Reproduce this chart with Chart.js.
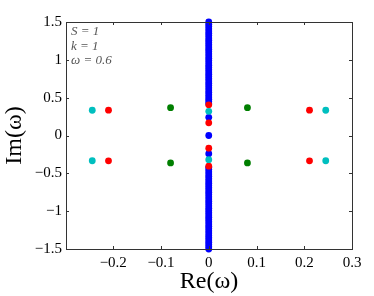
<!DOCTYPE html>
<html>
<head>
<meta charset="utf-8">
<script src="https://cdn.jsdelivr.net/npm/chart.js@4/dist/chart.umd.min.js"></script>
<style>
  html, body { margin: 0; padding: 0; background: #fff; }
</style>
</head>
<body>
<canvas id="roots" width="374" height="296"></canvas>
<script>
// eigenvalues (Re, Im)
var cyanRe = [-0.244, -0.244, 0.245, 0.245, 0, 0];
var cyanIm = [0.334, -0.334, 0.334, -0.334, 0.32, -0.32];

var redRe = [-0.21, -0.21, 0.211, 0.211, 0, 0, 0, 0];
var redIm = [0.335, -0.335, 0.335, -0.335, 0.405, -0.405, 0.167, -0.167];

var greenRe = [-0.08, -0.08, 0.081, 0.081];
var greenIm = [0.368, -0.362, 0.368, -0.362];

// blue branch sits on the imaginary axis
var blueIm = [0, 0.24, -0.24,
  0.42, 0.45, 0.48, 0.51, 0.54, 0.57, 0.60, 0.63, 0.66, 0.69, 0.72, 0.75, 0.78, 0.81,
  0.84, 0.87, 0.90, 0.93, 0.96, 0.99, 1.02, 1.05, 1.08, 1.11, 1.14, 1.17, 1.20, 1.23,
  1.26, 1.29, 1.32, 1.35, 1.38, 1.41, 1.44, 1.47, 1.50,
  -0.42, -0.45, -0.48, -0.51, -0.54, -0.57, -0.60, -0.63, -0.66, -0.69, -0.72, -0.75, -0.78, -0.81,
  -0.84, -0.87, -0.90, -0.93, -0.96, -0.99, -1.02, -1.05, -1.08, -1.11, -1.14, -1.17, -1.20, -1.23,
  -1.26, -1.29, -1.32, -1.35, -1.38, -1.41, -1.44, -1.47, -1.50];

var xTicks = [-0.2, -0.1, 0, 0.1, 0.2, 0.3];
var yTicks = [-1.5, -1, -0.5, 0, 0.5, 1, 1.5];
var notes = ['S = 1', 'k = 1', 'ω = 0.6'];

function pts(re, im){
    var out = [];
    for (var i = 0; i < im.length; i++) {
        out.push({x: re === null ? 0 : re[i], y: im[i]});
    }
    return out;
}

function fmt(v){
    var s = String(Math.round(v * 10) / 10);
    return s.replace('-', '\u2212');
}

// MATLAB-like box with inward ticks + the parameter note
var boxPlugin = {
    id: 'box',
    afterDraw: function(chart){
        var c = chart.ctx, a = chart.chartArea;
        var xs = chart.scales.x, ys = chart.scales.y;
        c.save();
        c.strokeStyle = '#333';
        c.lineWidth = 1;
        c.strokeRect(a.left + 0.5, a.top + 0.5, a.right - a.left, a.bottom - a.top);
        c.beginPath();
        xTicks.forEach(function(t){
            var px = Math.round(xs.getPixelForValue(t)) + 0.5;
            c.moveTo(px, a.bottom); c.lineTo(px, a.bottom - 3);
            c.moveTo(px, a.top); c.lineTo(px, a.top + 3);
        });
        yTicks.forEach(function(t){
            var py = Math.round(ys.getPixelForValue(t)) + 0.5;
            c.moveTo(a.left, py); c.lineTo(a.left + 3, py);
            c.moveTo(a.right, py); c.lineTo(a.right - 3, py);
        });
        c.stroke();
        c.fillStyle = '#555';
        c.font = 'italic 13px "Liberation Serif"';
        c.textBaseline = 'middle';
        notes.forEach(function(n, i){
            c.fillText(n, a.left + 5, a.top + 10 + i * 14.5);
        });
        c.restore();
    }
};

var dot = {pointRadius: 3.4, pointHoverRadius: 3.4, borderWidth: 0, clip: false};

new Chart(document.getElementById('roots'), {
    type: 'scatter',
    data: {
        datasets: [
            Object.assign({label: 'green', data: pts(greenRe, greenIm), backgroundColor: '#007f00'}, dot),
            Object.assign({label: 'cyan', data: pts(cyanRe, cyanIm), backgroundColor: '#00bfbf'}, dot),
            Object.assign({label: 'red', data: pts(redRe, redIm), backgroundColor: '#ff0000'}, dot),
            Object.assign({label: 'blue', data: pts(null, blueIm), backgroundColor: '#0000ff'}, dot)
        ]
    },
    options: {
        responsive: false,
        animation: false,
        layout: {padding: {top: 22, right: 22, left: 0, bottom: 0}},
        plugins: {legend: {display: false}, tooltip: {enabled: false}},
        scales: {
            x: {
                min: -0.299, max: 0.3,
                afterBuildTicks: function(s){ s.ticks = xTicks.map(function(v){ return {value: v}; }); },
                afterFit: function(s){ s.height = 47; },
                grid: {display: false, drawTicks: false},
                border: {display: false},
                ticks: {color: '#000', padding: 5, maxRotation: 0, autoSkip: false,
                        font: {family: 'Liberation Serif', size: 15},
                        callback: function(v){ return fmt(v); }},
                title: {display: true, text: 'Re(ω)', color: '#000', padding: {top: 0, bottom: 0},
                        font: {family: 'Liberation Serif', size: 24}}
            },
            y: {
                min: -1.5, max: 1.5,
                afterBuildTicks: function(s){ s.ticks = yTicks.map(function(v){ return {value: v}; }); },
                afterFit: function(s){ s.width = 66; },
                grid: {display: false, drawTicks: false},
                border: {display: false},
                ticks: {color: '#000', padding: 4, autoSkip: false,
                        font: {family: 'Liberation Serif', size: 15},
                        callback: function(v){ return fmt(v); }},
                title: {display: true, text: 'Im(ω)', color: '#000', padding: {top: 0, bottom: 0},
                        font: {family: 'Liberation Serif', size: 24}}
            }
        }
    },
    plugins: [boxPlugin]
});
</script>
</body>
</html>
